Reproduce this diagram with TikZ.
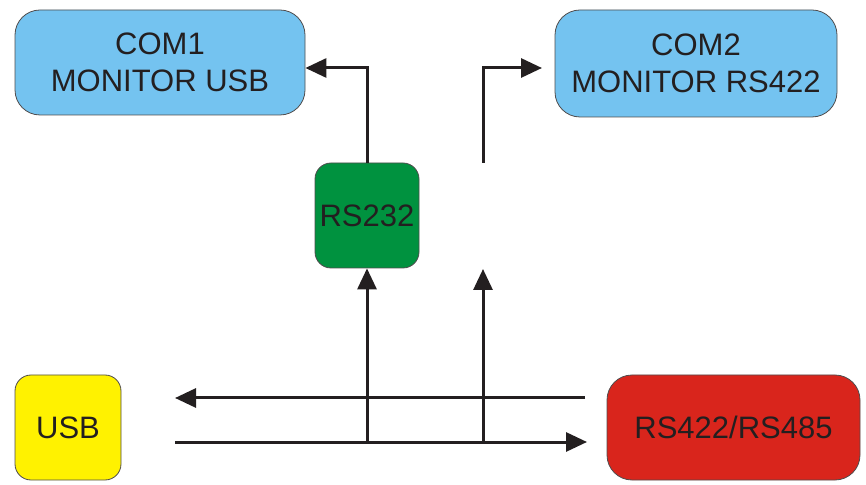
\documentclass[tikz,border=0pt]{standalone}
\usepackage{fontspec}
\setmainfont{Liberation Sans}
\definecolor{monblue}{RGB}{116, 195, 240}
\definecolor{portgreen}{RGB}{0, 146, 63}
\definecolor{usbyellow}{RGB}{255, 242, 0}
\definecolor{busred}{RGB}{217, 37, 28}
\definecolor{inkgray}{RGB}{35, 31, 32}
\usetikzlibrary{arrows.meta, positioning, calc}

\begin{document}
\begin{tikzpicture}[x=1pt, y=1pt,
    box/.style={draw=inkgray!80, line width=0.8pt, align=center, inner sep=0pt,
      text=inkgray, font=\fontsize{31}{37}\selectfont},
    wire/.style={draw=inkgray, line width=3pt},
    arr/.style={wire, -{Triangle[length=21pt, width=19pt]}}]
  \useasboundingbox (0,0) rectangle (866,484);
  % monitors
  \node[box, fill=monblue, rounded corners=25pt, minimum width=290pt, minimum height=105pt] (com1) at (160,421.5) {COM1\\MONITOR USB};
  \node[box, fill=monblue, rounded corners=25pt, minimum width=282pt, minimum height=107pt] (com2) at (696,420.5) {COM2\\MONITOR RS422};
  % converter
  \node[box, fill=portgreen, rounded corners=16pt, minimum width=104pt, minimum height=105pt] (rs232) at (367,268.5) {RS232};
  % ports
  \node[box, fill=usbyellow, rounded corners=16pt, minimum width=106pt, minimum height=105pt] (usb) at (68,56.5) {USB};
  \node[box, fill=busred, rounded corners=25pt, minimum width=253pt, minimum height=105pt] (rs422) at (733.5,56.5) {RS422/RS485};
  % free ends
  \coordinate (rxr) at (585,86);
  \coordinate (rxl) at (175,86);
  \coordinate (txl) at (175,42);
  \coordinate (txr) at (587,42);
  \coordinate (tap) at (483,42);
  \coordinate (gapin) at (483,215);
  \coordinate (gapout) at (483,321);
  \coordinate (com2in) at (542,416);
  % connectors
  \draw[arr] (rxr) -- (rxl);
  \draw[arr] (txl) -- (txr);
  \draw[arr] (rs232.south |- txl) -- (rs232.south);
  \draw[arr] (tap) -- (gapin);
  \draw[arr] (rs232.north) |- ([yshift=-5.5pt]com1.east);
  \draw[arr] (gapout) |- (com2in);
\end{tikzpicture}
\end{document}
